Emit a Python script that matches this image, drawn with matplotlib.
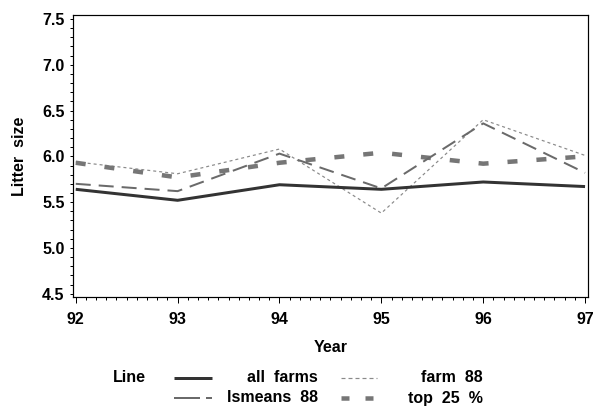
import matplotlib
matplotlib.use("Agg")
import matplotlib.pyplot as plt
from matplotlib.lines import Line2D
from matplotlib.ticker import MultipleLocator

plt.rcParams["font.family"] = ["Liberation Sans", "DejaVu Sans"]
plt.rcParams["font.weight"] = "bold"
plt.rcParams["lines.scale_dashes"] = False

# ─── data ────────────────────────────────────────────────────────────────────
years = [92, 93, 94, 95, 96, 97]
all_farms = [5.64, 5.52, 5.69, 5.64, 5.72, 5.67]
lsmeans_88 = [5.70, 5.62, 6.03, 5.65, 6.36, 5.82]
farm_88 = [5.94, 5.81, 6.08, 5.38, 6.40, 6.01]
top_25 = [5.93, 5.77, 5.93, 6.04, 5.92, 6.00]

W, H = 593, 407
PX = 72 / 100  # one pixel in points at dpi 100
FS = 11.5

# style per series: colour, width, dashes (points) for plot and for legend
styles = {
    "all farms":  ("#333333", 3.0 * PX, None, None),
    "lsmeans 88": ("#6a6a6a", 2.0 * PX, (15 * PX, 8 * PX), (26 * PX, 6 * PX, 6 * PX, 20 * PX)),
    "farm 88":    ("#8a8a8a", 1.2 * PX, (3 * PX, 3 * PX), (4 * PX, 3 * PX)),
    "top 25 %":   ("#767676", 4.5 * PX, (10 * PX, 19 * PX), (8 * PX, 16 * PX)),
}
series = {
    "all farms": all_farms,
    "lsmeans 88": lsmeans_88,
    "farm 88": farm_88,
    "top 25 %": top_25,
}

fig = plt.figure(figsize=(W / 100, H / 100), dpi=100)
left, right, top, bottom = 73.3, 587.7, 15.0, 296.7
ax = fig.add_axes([left / W, 1 - bottom / H, (right - left) / W, (bottom - top) / H])

# draw order: lighter ones first, solid on top
for name in ["farm 88", "top 25 %", "lsmeans 88", "all farms"]:
    col, lw, dash, _ = styles[name]
    ln, = ax.plot(years, series[name], color=col, lw=lw, solid_capstyle="butt",
                  dash_capstyle="butt")
    if dash:
        ln.set_dashes(dash)

ax.set_xlim(91.976, 97.026)
ax.set_ylim(4.467, 7.544)
ax.xaxis.set_minor_locator(MultipleLocator(0.1))
ax.yaxis.set_minor_locator(MultipleLocator(0.1))
ax.set_xticks(years)
ax.set_xticklabels([str(y) for y in years])
ax.set_yticks([4.5, 5.0, 5.5, 6.0, 6.5, 7.0, 7.5])
ax.set_yticklabels(["4.5", "5.0", "5.5", "6.0", "6.5", "7.0", "7.5"])

ax.tick_params(axis="x", which="major", direction="out", length=5.5 * PX, width=1 * PX,
               pad=7.3, labelsize=FS)
ax.tick_params(axis="x", which="minor", direction="out", length=3.3 * PX, width=1 * PX)
ax.tick_params(axis="y", which="major", direction="out", length=3 * PX, width=1 * PX,
               pad=4, labelsize=FS)
ax.tick_params(axis="y", which="minor", direction="out", length=3 * PX, width=1 * PX)
for sp in ax.spines.values():
    sp.set_linewidth(1.2 * PX)
    sp.set_color("black")

fig.text(330.5 / W, 1 - 348 / H, "Year", ha="center", va="center", fontsize=FS)
fig.text(20 / W, 1 - 156 / H, "Litter  size", ha="center", va="center",
         rotation=90, fontsize=FS)

# ─── legend (drawn by hand to get SAS layout) ────────────────────────────────
fig.text(113 / W, 1 - 378 / H, "Line", ha="left", va="center", fontsize=FS)
legend_slots = [
    ("all farms", "all  farms", 174, 212, 318, 378),
    ("farm 88", "farm  88", 341, 377, 483, 378),
    ("lsmeans 88", "lsmeans  88", 174, 212, 318, 398),
    ("top 25 %", "top  25  %", 341, 377, 483, 398),
]
for key, label, x0, x1, xt, yc in legend_slots:
    col, lw, _, ldash = styles[key]
    h = Line2D([x0 / W, x1 / W], [1 - yc / H, 1 - yc / H], transform=fig.transFigure,
               color=col, lw=lw, solid_capstyle="butt", dash_capstyle="butt")
    if ldash:
        h.set_dashes(ldash)
    fig.add_artist(h)
    fig.text(xt / W, 1 - yc / H, label, ha="right", va="center", fontsize=FS)

fig.savefig("out.png", dpi=100)
